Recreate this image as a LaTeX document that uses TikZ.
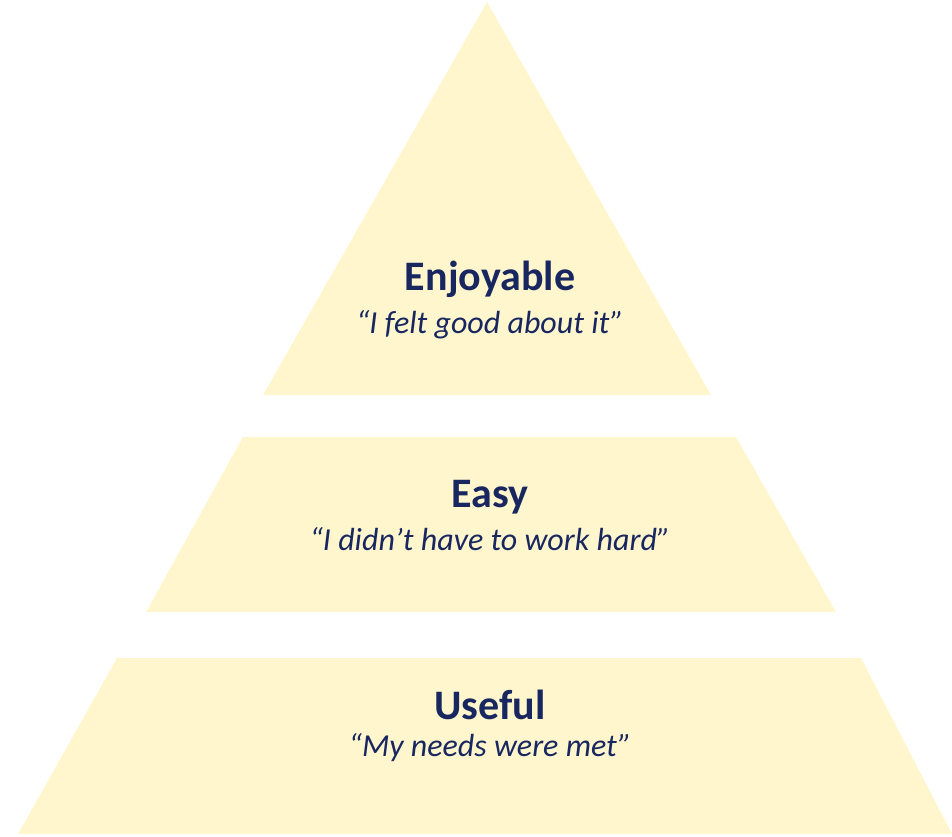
\documentclass[tikz,border=0pt]{standalone}
\usepackage{fontspec}
\setmainfont{Carlito}
\usetikzlibrary{positioning}

\definecolor{tierfill}{HTML}{FFF6CD}
\definecolor{tiertext}{HTML}{18275F}

\begin{document}
\begin{tikzpicture}[x=1pt, y=-1pt,
    tier/.style = {fill=tierfill, draw=none},
    title/.style = {text=tiertext, font=\fontsize{42}{48}\selectfont\bfseries, inner sep=0pt},
    quote/.style = {text=tiertext, font=\fontsize{32}{38}\selectfont\itshape, inner sep=0pt}]
      \useasboundingbox (0,0) rectangle (952,836);

      % three tiers, top to bottom
      \fill [tier] (487,2) -- (711,395) -- (263,395) -- cycle;
      \fill [tier] (243,437) -- (736,437) -- (836,612) -- (146,612) -- cycle;
      \fill [tier] (117,658) -- (861,658) -- (952,834) -- (18,834) -- cycle;

      \node [title] (enj) at (490,279) {Enjoyable};
      \node [quote, below=13pt of enj] (enjq) {“I felt good about it”};
      \node [title] (easy) at (490,497) {Easy};
      \node [quote, below=13pt of easy] (easyq) {“I didn’t have to work hard”};
      \node [title] (use) at (490,705) {Useful};
      \node [quote, below=13pt of use] (useq) {“My needs were met”};
    \end{tikzpicture}
\end{document}
